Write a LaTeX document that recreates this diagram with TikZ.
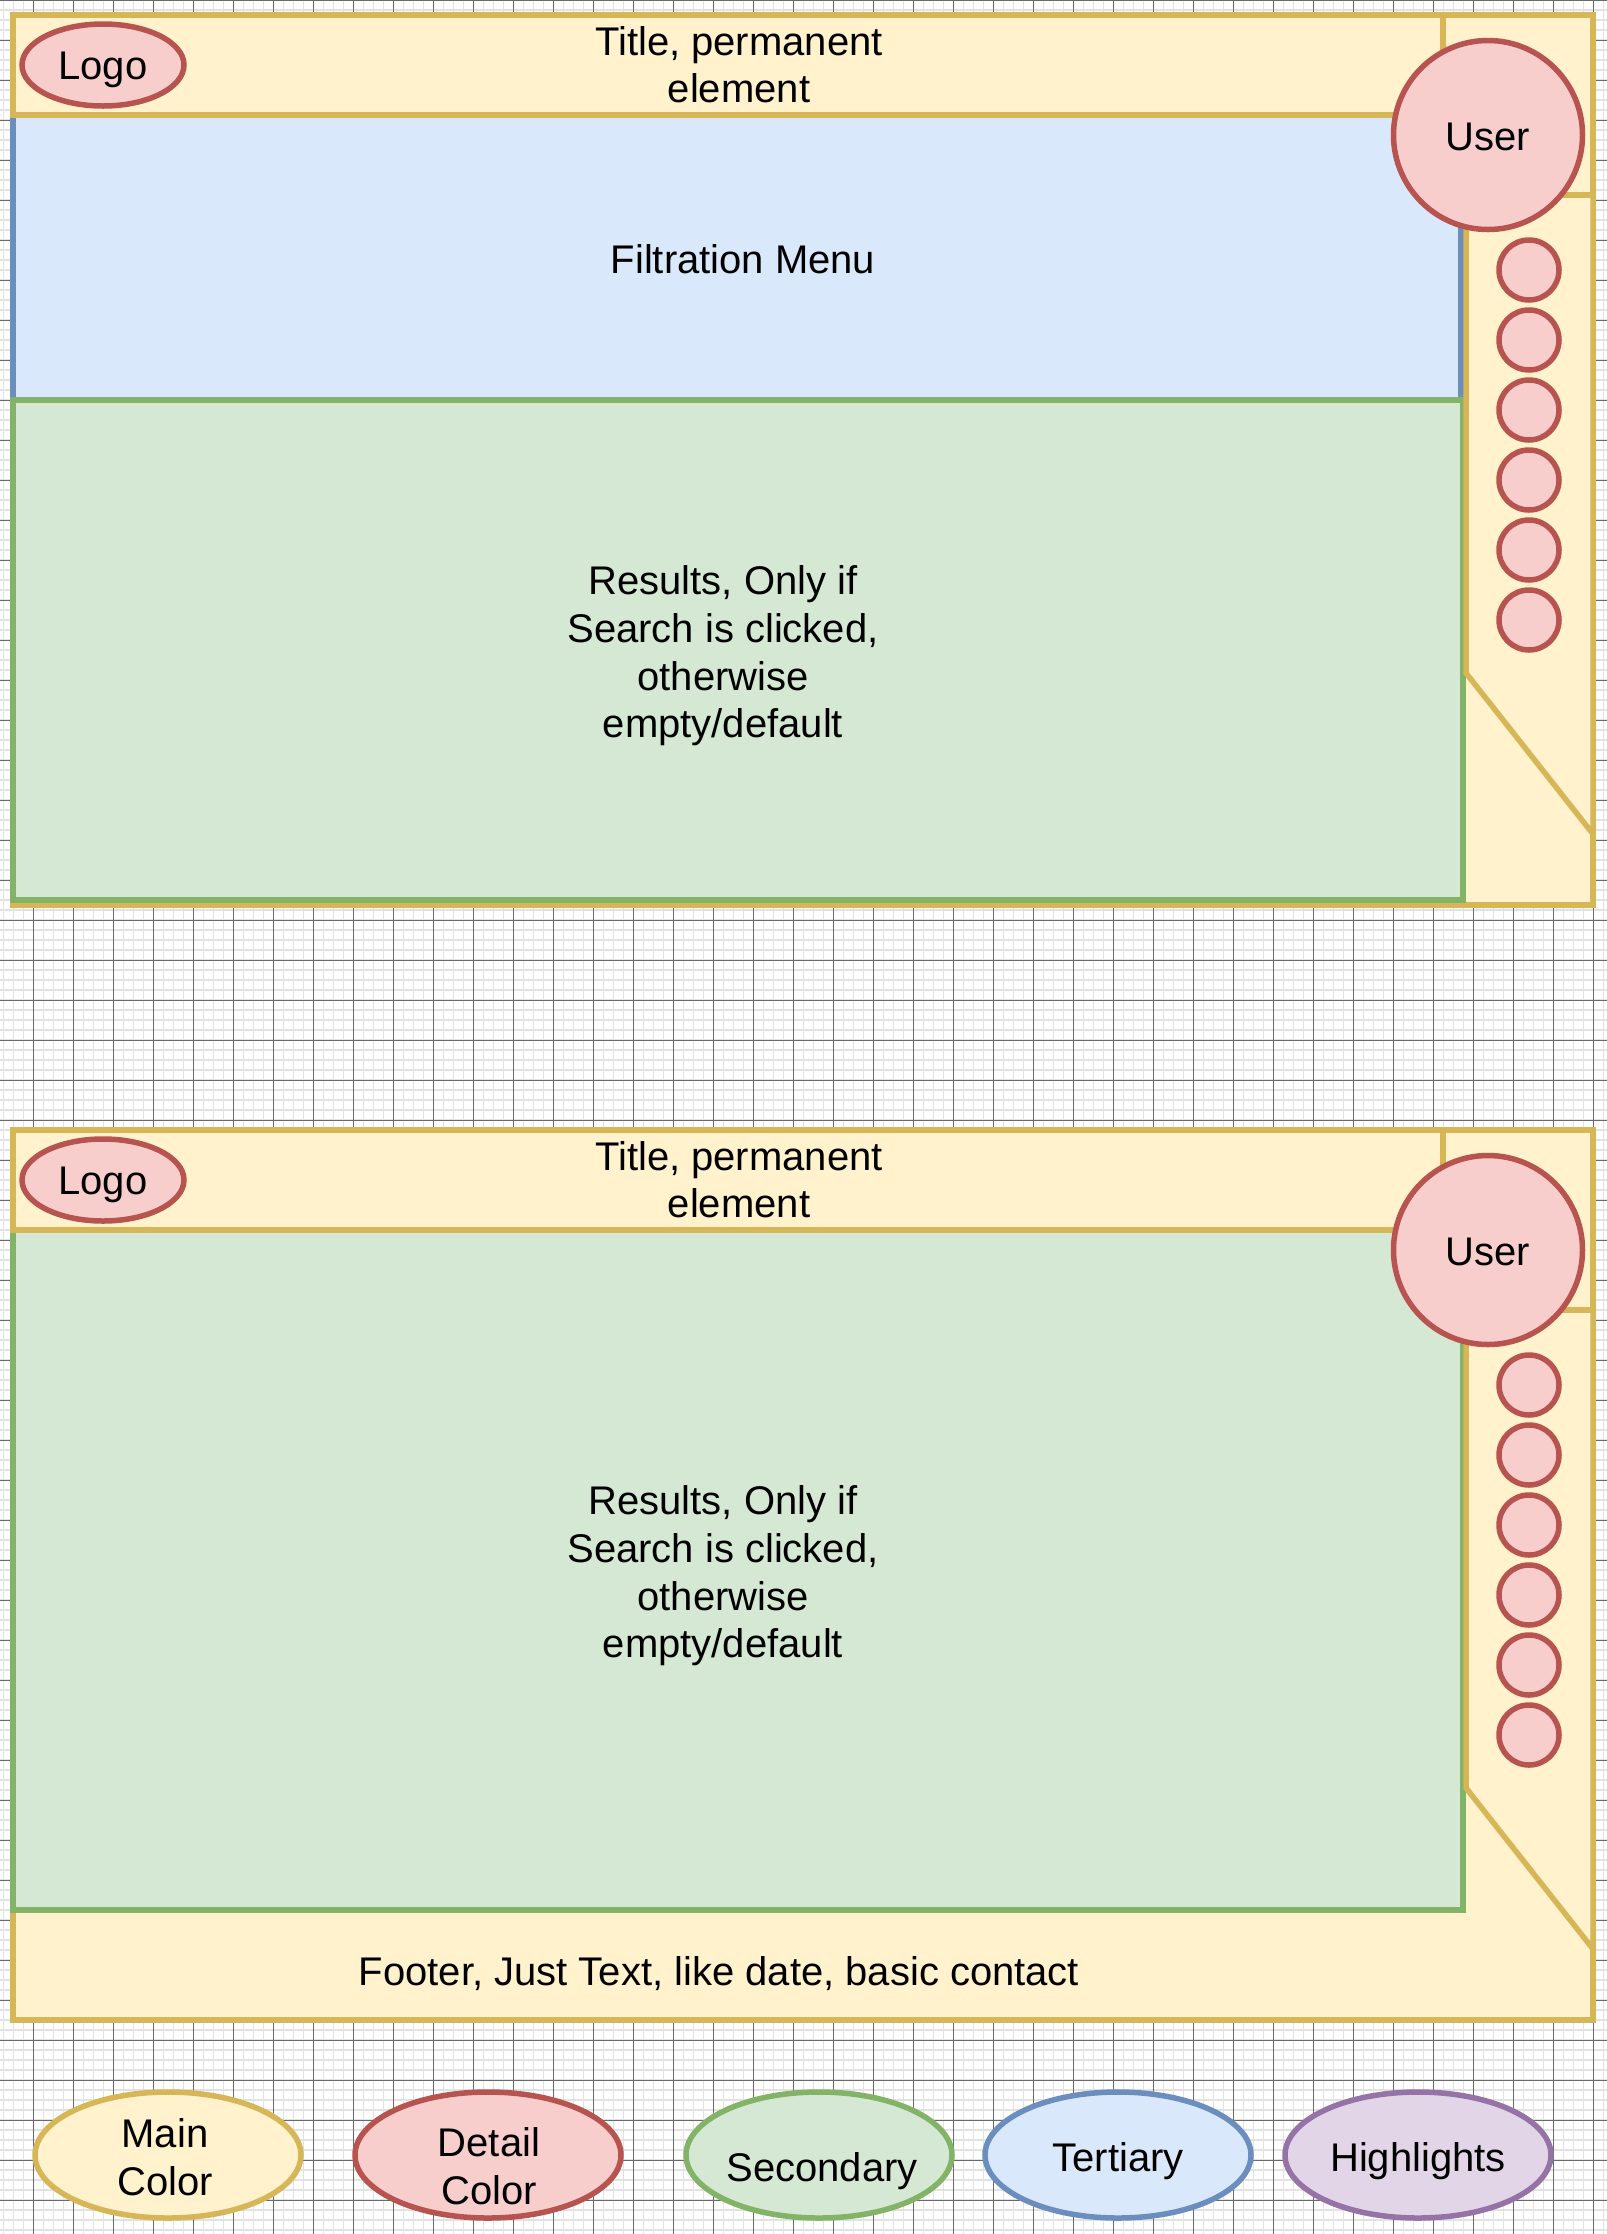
\documentclass[tikz,border=0pt]{standalone}
\usepackage{fontspec}
\setmainfont{Liberation Sans}
\usetikzlibrary{shapes.geometric}
\definecolor{yfill}{HTML}{FFF2CC}
\definecolor{ystroke}{HTML}{D6B656}
\definecolor{rfill}{HTML}{F8CECC}
\definecolor{rstroke}{HTML}{B85450}
\definecolor{gfill}{HTML}{D5E8D4}
\definecolor{gstroke}{HTML}{82B366}
\definecolor{bfill}{HTML}{DAE8FC}
\definecolor{bstroke}{HTML}{6C8EBF}
\definecolor{pfill}{HTML}{E1D5E7}
\definecolor{pstroke}{HTML}{9673A6}
\definecolor{gridminor}{HTML}{E2E2E2}
\definecolor{gridmajor}{HTML}{6A6A6A}
\newcommand{\mytopst}{\rule{0pt}{0.95em}}
\newcommand{\mybotst}{\rule[-0.234em]{0pt}{0.234em}}
\begin{document}
\begin{tikzpicture}[x=0.5pt,y=-0.5pt,
  lw/.style={line width=2.75pt},
  yshape/.style={lw, draw=ystroke, fill=yfill, line join=miter},
  bshape/.style={lw, draw=bstroke, fill=bfill},
  gshape/.style={lw, draw=gstroke, fill=gfill},
  txt/.style={font=\fontsize{20}{23.8}\selectfont, align=center, inner sep=0pt},
  usercirc/.style={circle, lw, draw=rstroke, fill=rfill, inner sep=0pt, minimum size=94.5pt},
  smallcirc/.style={circle, lw, draw=rstroke, fill=rfill, inner sep=0pt, minimum size=30pt},
  logo/.style={ellipse, lw, draw=rstroke, fill=rfill, inner sep=0pt, minimum width=81pt, minimum height=41pt},
  legend/.style={ellipse, lw, inner sep=0pt, minimum width=133pt, minimum height=63pt},
  minorline/.style={draw=gridminor, line width=0.55pt},
  majorline/.style={draw=gridmajor, line width=0.35pt}
]
\useasboundingbox (0,0) rectangle (1607,2234);
\fill[white] (0,0) rectangle (1607,2234);
% grid
\foreach \i in {0,...,160} \draw[minorline] ({3.33+10*\i},0) -- ({3.33+10*\i},2234);
\foreach \j in {0,...,223} \draw[minorline] (0,{10*\j}) -- (1607,{10*\j});
\foreach \i in {0,...,39} \draw[majorline] ({33.33+40*\i},0) -- ({33.33+40*\i},2234);
\foreach \j in {0,...,55} \draw[majorline] (0,{40*\j}) -- (1607,{40*\j});

% ===== top screen =====
\path[yshape] (13,15) rectangle (1593,905);
\path[yshape] (1443,15) rectangle (1593,195);
\path[bshape] (13,115) rectangle (1461,400);
\path[gshape] (13,400) rectangle (1463,900);
\path[yshape] (13,15) rectangle (1443,115);
\path[yshape] (1466,195) -- (1466,673) -- (1593,834) -- (1593,195) -- cycle;
\node[logo] (t1logo) at (103,65) {};
\node[txt] (t1logotxt) at (t1logo.center) {\mytopst Logo\mybotst};
\node[usercirc] (t1user) at (1488,135) {};
\node[txt] (t1usertxt) at (1488,136) {\mytopst User\mybotst};
\foreach \k in {0,...,5} \node[smallcirc] (t1icon\k) at (1529,{270+70*\k}) {};
\node[txt] (t1title) at (739,64.5) {\mytopst Title, permanent\\element\mybotst};
\node[txt] (t1filter) at (743,259) {\mytopst Filtration Menu\mybotst};
\node[txt] (t1results) at (723,652) {\mytopst Results, Only if\\Search is clicked,\\otherwise\\empty/default\mybotst};

% ===== bottom screen =====
\path[yshape] (13,1130) rectangle (1593,2020);
\path[yshape] (1443,1130) rectangle (1593,1310);
\path[gshape] (13,1230) rectangle (1463,1910);
\path[yshape] (13,1130) rectangle (1443,1230);
\path[yshape] (1466,1310) -- (1466,1788) -- (1593,1949) -- (1593,1310) -- cycle;
\node[logo] (t2logo) at (103,1180) {};
\node[txt] (t2logotxt) at (t2logo.center) {\mytopst Logo\mybotst};
\node[usercirc] (t2user) at (1488,1250) {};
\node[txt] (t2usertxt) at (1488,1251) {\mytopst User\mybotst};
\foreach \k in {0,...,5} \node[smallcirc] (t2icon\k) at (1529,{1385+70*\k}) {};
\node[txt] (t2title) at (739,1179.5) {\mytopst Title, permanent\\element\mybotst};
\node[txt] (t2results) at (723,1572) {\mytopst Results, Only if\\Search is clicked,\\otherwise\\empty/default\mybotst};
\node[txt] (t2footer) at (719,1971) {\mytopst Footer, Just Text, like date, basic contact\mybotst};

% ===== legend =====
\node[legend, draw=ystroke, fill=yfill] (lmain) at (168,2155) {};
\node[txt] (lmaintxt) at (165,2157) {\mytopst Main\\Color\mybotst};
\node[legend, draw=rstroke, fill=rfill] (ldetail) at (488,2155) {};
\node[txt] (ldetailtxt) at (489,2166) {\mytopst Detail\\Color\mybotst};
\node[legend, draw=gstroke, fill=gfill] (lsecond) at (819,2155) {};
\node[txt] (lsecondtxt) at (822,2167) {\mytopst Secondary\mybotst};
\node[legend, draw=bstroke, fill=bfill] (ltert) at (1118,2155) {};
\node[txt] (ltertxt) at (1118,2157) {\mytopst Tertiary\mybotst};
\node[legend, draw=pstroke, fill=pfill] (lhigh) at (1418,2155) {};
\node[txt] (lhightxt) at (1418,2157) {\mytopst Highlights\mybotst};
\end{tikzpicture}
\end{document}
